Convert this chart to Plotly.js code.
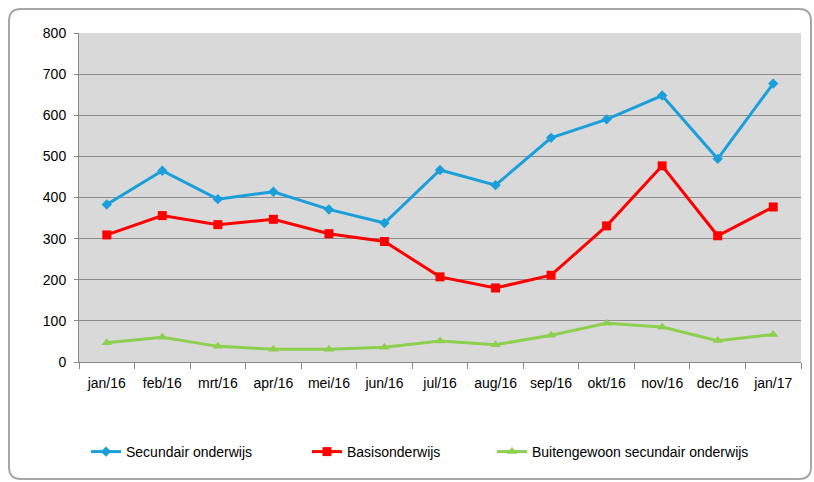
<!DOCTYPE html>
<html>
<head>
<meta charset="utf-8">
<script src="https://cdn.plot.ly/plotly-3.0.1.min.js"></script>
<style>
html,body{margin:0;padding:0;background:#fff;}
#chart{width:814px;height:482px;}
</style>
</head>
<body>
<div id="chart"></div>
<script>
const months = ["jan/16","feb/16","mrt/16","apr/16","mei/16","jun/16","jul/16","aug/16","sep/16","okt/16","nov/16","dec/16","jan/17"];
const secundair = [383,465,396,414,371,338,467,430,545,590,648,494,677];
const basis = [309,356,334,347,312,293,207,180,211,331,477,307,377];
const buitengewoon = [47,60,38,31,31,36,51,42,65,94,85,52,67];

const W = 814, H = 482;
const L = 79, R = 801, T = 33, B = 362;
const fontFam = '"Liberation Sans Narrow", "Liberation Sans", Arial, sans-serif';

function px(x){return (x - L)/(R - L);}
function py(y){return (B - y)/(B - T);}
function roundRectPath(x0,y0,x1,y1,r){
  const P = (x,y)=> px(x).toFixed(5)+','+py(y).toFixed(5);
  return 'M'+P(x0+r,y0)+' L'+P(x1-r,y0)+' Q'+P(x1,y0)+' '+P(x1,y0+r)+
         ' L'+P(x1,y1-r)+' Q'+P(x1,y1)+' '+P(x1-r,y1)+
         ' L'+P(x0+r,y1)+' Q'+P(x0,y1)+' '+P(x0,y1-r)+
         ' L'+P(x0,y0+r)+' Q'+P(x0,y0)+' '+P(x0+r,y0)+' Z';
}

const traces = [
  {x: months, y: secundair, name: "Secundair onderwijs", type: "scatter", mode: "lines+markers",
   line: {color: "#1B9FDB", width: 3}, marker: {symbol: "diamond", size: 8, color: "#1B9FDB"}, legend: "legend"},
  {x: months, y: basis, name: "Basisonderwijs", type: "scatter", mode: "lines+markers",
   line: {color: "#FF0000", width: 3}, marker: {symbol: "square", size: 9, color: "#FF0000"}, legend: "legend2"},
  {x: months, y: buitengewoon, name: "Buitengewoon secundair onderwijs", type: "scatter", mode: "lines+markers",
   line: {color: "#8DCF4E", width: 3}, marker: {symbol: "triangle-up", size: 9, color: "#8DCF4E"}, legend: "legend3"}
];

function leg(xpix){
  return {x: px(xpix), y: py(452), xanchor: "left", yanchor: "middle", orientation: "h",
          bgcolor: "rgba(0,0,0,0)", font: {family: fontFam, size: 14, color: "#000"}, itemwidth: 30};
}

const layout = {
  width: W, height: H,
  margin: {l: L, r: W - R, t: T, b: H - B},
  paper_bgcolor: "#ffffff",
  plot_bgcolor: "#D9D9D9",
  font: {family: fontFam, size: 14, color: "#000"},
  showlegend: true,
  legend: leg(86),
  legend2: leg(307),
  legend3: leg(492),
  xaxis: {
    type: "category", range: [-0.5, 12.5], tickson: "boundaries", ticks: "outside", ticklen: 6, tickcolor: "#888",
    showline: true, linecolor: "#888", linewidth: 1, showgrid: false, zeroline: false,
    tickfont: {family: fontFam, size: 14}, ticklabelstandoff: 8, fixedrange: true
  },
  yaxis: {
    range: [0, 800], dtick: 100, ticks: "outside", ticklen: 4, tickcolor: "#888",
    showline: true, linecolor: "#888", linewidth: 1,
    gridcolor: "#8C8C8C", gridwidth: 1, zeroline: false,
    tickfont: {family: fontFam, size: 14}, ticklabelstandoff: 5, fixedrange: true
  },
  shapes: [{
    type: "path", xref: "paper", yref: "paper", layer: "below",
    path: roundRectPath(9, 9, 811, 479, 12),
    line: {color: "#A6A6A6", width: 2}, fillcolor: "rgba(0,0,0,0)"
  }]
};

Plotly.newPlot("chart", traces, layout, {displayModeBar: false, staticPlot: true});
</script>
</body>
</html>
